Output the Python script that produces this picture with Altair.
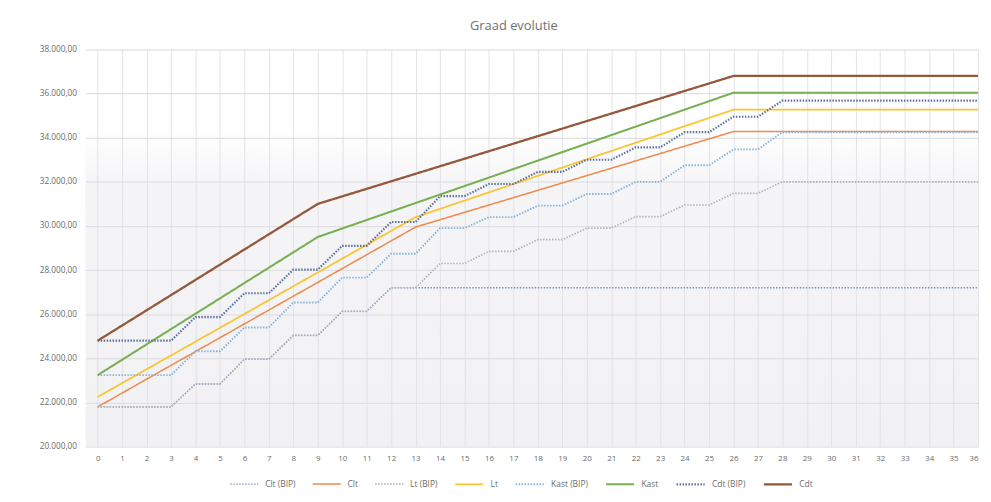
import altair as alt
import pandas as pd

# ---- data ----
series_names = ["Clt (BIP)", "Clt", "Lt (BIP)", "Lt", "Kast (BIP)", "Kast", "Cdt (BIP)", "Cdt"]
series_colors = ["#7d95c6", "#EE8A4C", "#b4b4b8", "#FAC532", "#86b3dc", "#76B050", "#5b6f9e", "#94583c"]
series_dash = [[1.5, 1.5], [1, 0], [1.5, 1.5], [1, 0], [1.5, 1.5], [1, 0], [1.5, 1.5], [1, 0]]
series_width = [1.4, 2.3, 1.4, 2.3, 1.4, 2.3, 1.4, 2.3]

clt_bip_x = [0, 3, 4, 5, 6, 7, 8, 9, 10, 11, 12, 36]
clt_bip_y = [21800, 21800, 22840, 22840, 23960, 23960, 25040, 25040, 26130, 26130, 27200, 27200]

clt_x = [0, 13, 26, 36]
clt_y = [21800, 29950, 34280, 34280]

lt_bip_x = [0, 3, 4, 5, 6, 7, 8, 9, 10, 11, 12, 13, 14, 15, 16, 17, 18, 19, 20, 21, 22, 23, 24, 25, 26, 27, 28, 36]
lt_bip_y = [21800, 21800, 22840, 22840, 23960, 23960, 25040, 25040, 26130, 26130, 27200, 27200,
            28300, 28300, 28850, 28850, 29380, 29380, 29900, 29900, 30420, 30420, 30950, 30950,
            31480, 31480, 32000, 32000]

lt_x = [0, 13, 26, 36]
lt_y = [22250, 30400, 35270, 35270]

kast_bip_x = [0, 3, 4, 5, 6, 7, 8, 9, 10, 11, 12, 13, 14, 15, 16, 17, 18, 19, 20, 21, 22, 23, 24, 25, 26, 27, 28, 36]
kast_bip_y = [23240, 23240, 24320, 24320, 25400, 25400, 26530, 26530, 27660, 27660, 28740, 28740,
              29900, 29900, 30400, 30400, 30920, 30920, 31450, 31450, 32000, 32000, 32750, 32750,
              33470, 33470, 34250, 34250]

kast_x = [0, 9, 26, 36]
kast_y = [23240, 29500, 36040, 36040]

cdt_bip_x = [0, 3, 4, 5, 6, 7, 8, 9, 10, 11, 12, 13, 14, 15, 16, 17, 18, 19, 20, 21, 22, 23, 24, 25, 26, 27, 28, 36]
cdt_bip_y = [24800, 24800, 25870, 25870, 26950, 26950, 28020, 28020, 29100, 29100, 30180, 30180,
             31350, 31350, 31900, 31900, 32450, 32450, 33000, 33000, 33560, 33560, 34250, 34250,
             34950, 34950, 35680, 35680]

cdt_x = [0, 9, 26, 36]
cdt_y = [24800, 31000, 36800, 36800]

x_ticks = list(range(0, 37))
y_ticks = [20000, 22000, 24000, 26000, 28000, 30000, 32000, 34000, 36000, 38000]

series_xy = [
    (clt_bip_x, clt_bip_y), (clt_x, clt_y), (lt_bip_x, lt_bip_y), (lt_x, lt_y),
    (kast_bip_x, kast_bip_y), (kast_x, kast_y), (cdt_bip_x, cdt_bip_y), (cdt_x, cdt_y),
]

rows = []
for name, (xs, ys) in zip(series_names, series_xy):
    for xv, yv in zip(xs, ys):
        rows.append({"serie": name, "x": xv, "y": yv})
df = pd.DataFrame(rows)

FONT = "Open Sans"
TXT = "#6b6b6b"

x_enc = alt.X("x:Q",
              scale=alt.Scale(domain=[-0.5, 36], nice=False, zero=False),
              axis=alt.Axis(values=x_ticks, title=None, grid=True, gridColor="#e3e3e6",
                            gridWidth=1, ticks=False, domain=False, labelFontSize=8,
                            labelColor=TXT, labelFont=FONT, labelPadding=8, format="d"))
y_enc = alt.Y("y:Q",
              scale=alt.Scale(domain=[20000, 38000], nice=False, zero=False),
              axis=alt.Axis(values=y_ticks, title=None, grid=True, gridColor="#d9d9d9",
                            gridWidth=1, ticks=False, domain=False, labelFontSize=8.3,
                            labelColor=TXT, labelFont=FONT, labelPadding=9,
                            labelExpr="replace(replace(replace(format(datum.value, ',.2f'), ',', '_'), '.', ','), '_', '.')"))

legend = alt.Legend(title=None, orient="none", legendX=145, legendY=422, direction="horizontal",
                    symbolType="stroke", symbolSize=800, labelFontSize=8.5, labelColor=TXT,
                    labelFont=FONT, columnPadding=13, labelOffset=6)

lines = alt.Chart(df).mark_line(strokeCap="butt").encode(
    x=x_enc,
    y=y_enc,
    color=alt.Color("serie:N", scale=alt.Scale(domain=series_names, range=series_colors), legend=legend, sort=series_names),
    strokeDash=alt.StrokeDash("serie:N", scale=alt.Scale(domain=series_names, range=series_dash), legend=legend, sort=series_names),
    strokeWidth=alt.StrokeWidth("serie:N", scale=alt.Scale(domain=series_names, range=series_width), legend=legend, sort=series_names),
)

bg = alt.Chart(alt.Data(values=[{"a": 1}])).mark_rect(
    fill={"gradient": "linear", "x1": 0, "y1": 0, "x2": 0, "y2": 1,
          "stops": [{"offset": 0, "color": "rgba(225,225,232,0)"},
                    {"offset": 0.2, "color": "rgba(225,225,232,0)"},
                    {"offset": 0.35, "color": "rgba(225,225,232,0.35)"},
                    {"offset": 1, "color": "rgba(225,225,232,0.45)"}]}
).encode(x=alt.value(0), x2=alt.value("width"), y=alt.value(0), y2=alt.value("height"))

chart = alt.layer(bg, lines).properties(
    width=899,
    height=400,
    title=alt.TitleParams("Graad evolutie", fontSize=13, color="#707070", font=FONT, fontWeight="normal",
                          anchor="middle", dx=-18, offset=12),
    autosize=alt.AutoSizeParams(type="none"),
    padding={"left": 78, "top": 40, "right": 5, "bottom": 46},
    background="white",
).configure_view(stroke=None)

chart.save("out.html", embed_options={"renderer": "svg", "actions": False})
